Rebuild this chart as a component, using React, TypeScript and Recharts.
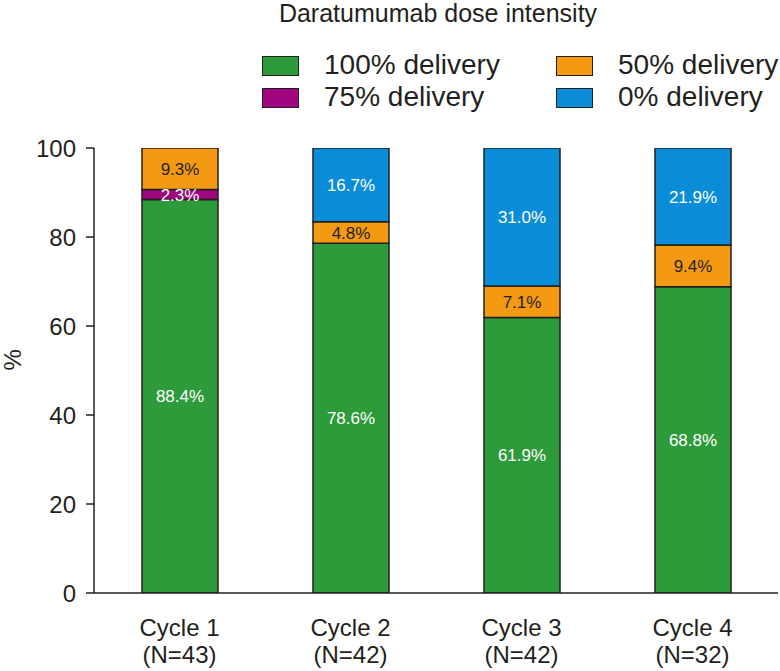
import React from "react";
import { BarChart, Bar, XAxis, YAxis, LabelList } from "recharts";

const cycles = ["Cycle 1", "Cycle 2", "Cycle 3", "Cycle 4"];
const patients = ["(N=43)", "(N=42)", "(N=42)", "(N=32)"];
const delivery100 = [88.4, 78.6, 61.9, 68.8];
const delivery75 = [2.3, 0, 0, 0];
const delivery50 = [9.3, 4.8, 7.1, 9.4];
const delivery0 = [0, 16.7, 31.0, 21.9];
const yTicks = [0, 20, 40, 60, 80, 100];
const edgeTicks = [0, 1, 2, 3, 4];

const INK = "#231F20";
const FONT = "'Liberation Sans', Arial, Helvetica, sans-serif";

const series = [
  { key: "d100", name: "100% delivery", color: "#2E9B3B", text: "#FFFFFF" },
  { key: "d75", name: "75% delivery", color: "#A0067F", text: "#FFFFFF" },
  { key: "d50", name: "50% delivery", color: "#F39A12", text: INK },
  { key: "d0", name: "0% delivery", color: "#0A8DD8", text: "#FFFFFF" },
];

const data = cycles.map((c, i) => ({
  cycle: c,
  d100: delivery100[i],
  d75: delivery75[i],
  d50: delivery50[i],
  d0: delivery0[i],
}));

// legend layout: two rows, two columns
const legendSlots = [
  { key: "d100", left: 262, top: 56 },
  { key: "d50", left: 556, top: 56 },
  { key: "d75", left: 262, top: 88 },
  { key: "d0", left: 556, top: 88 },
];

function pct(v: any) {
  const n = Number(v);
  return n ? `${n.toFixed(1)}%` : "";
}

function CycleTick(props: any) {
  const { x, y, payload } = props;
  return (
    <text x={x} y={y} textAnchor="middle" fontSize={24} fill={INK} fontFamily={FONT}>
      <tspan x={x} dy={34}>{payload.value}</tspan>
      <tspan x={x} dy={27}>{patients[payload.index]}</tspan>
    </text>
  );
}

export default function App() {
  return (
    <div style={{ position: "relative", width: 780, height: 671, fontFamily: FONT, color: INK }}>
      <style>{"body{margin:0}"}</style>
      <div
        style={{
          position: "absolute",
          left: 0,
          width: 876,
          top: 0,
          textAlign: "center",
          fontSize: 25,
          lineHeight: "26px",
        }}
      >
        Daratumumab dose intensity
      </div>
      {legendSlots.map((slot) => {
        const s = series.find((x) => x.key === slot.key)!;
        return (
          <div key={slot.key}>
            <div
              style={{
                position: "absolute",
                left: slot.left,
                top: slot.top,
                width: 37,
                height: 20,
                background: s.color,
                border: `1.5px solid ${INK}`,
                boxSizing: "border-box",
              }}
            />
            <div
              style={{
                position: "absolute",
                left: slot.left + 62,
                top: slot.top - 7,
                fontSize: 28,
                lineHeight: "32px",
                whiteSpace: "nowrap",
              }}
            >
              {s.name}
            </div>
          </div>
        );
      })}
      <div style={{ position: "absolute", left: 0, top: 0 }}>
        <BarChart
          width={780}
          height={671}
          data={data}
          margin={{ top: 148, right: 2, bottom: 0, left: 0 }}
          barCategoryGap={0}
        >
          <XAxis
            xAxisId="a-edge"
            type="number"
            domain={[0, 4]}
            ticks={edgeTicks}
            tick={false}
            tickSize={11}
            height={1}
            stroke={INK}
            axisLine={{ stroke: INK, strokeWidth: 1.5 }}
            tickLine={{ stroke: INK, strokeWidth: 1.5 }}
          />
          <XAxis
            xAxisId="b-cat"
            dataKey="cycle"
            axisLine={false}
            tickLine={false}
            tick={<CycleTick />}
            height={77}
            interval={0}
          />
          <YAxis
            domain={[0, 100]}
            allowDataOverflow
            ticks={yTicks}
            width={94}
            tickSize={8}
            tickMargin={10}
            tick={{ fontSize: 24, fill: INK, fontFamily: FONT }}
            axisLine={{ stroke: INK, strokeWidth: 1.5 }}
            tickLine={{ stroke: INK, strokeWidth: 1.5 }}
            label={{
              value: "%",
              angle: -90,
              position: "insideLeft",
              offset: 12,
              style: { fontSize: 24, fill: INK, fontFamily: FONT },
            }}
          />
          {series.map((s) => (
            <Bar
              key={s.key}
              xAxisId="b-cat"
              dataKey={s.key}
              name={s.name}
              stackId="a"
              fill={s.color}
              stroke={INK}
              strokeWidth={1.5}
              barSize={76}
              isAnimationActive={false}
            >
              <LabelList
                dataKey={s.key}
                position="center"
                formatter={pct}
                fill={s.text}
                fontSize={17}
                fontFamily={FONT}
              />
            </Bar>
          ))}
        </BarChart>
      </div>
    </div>
  );
}
